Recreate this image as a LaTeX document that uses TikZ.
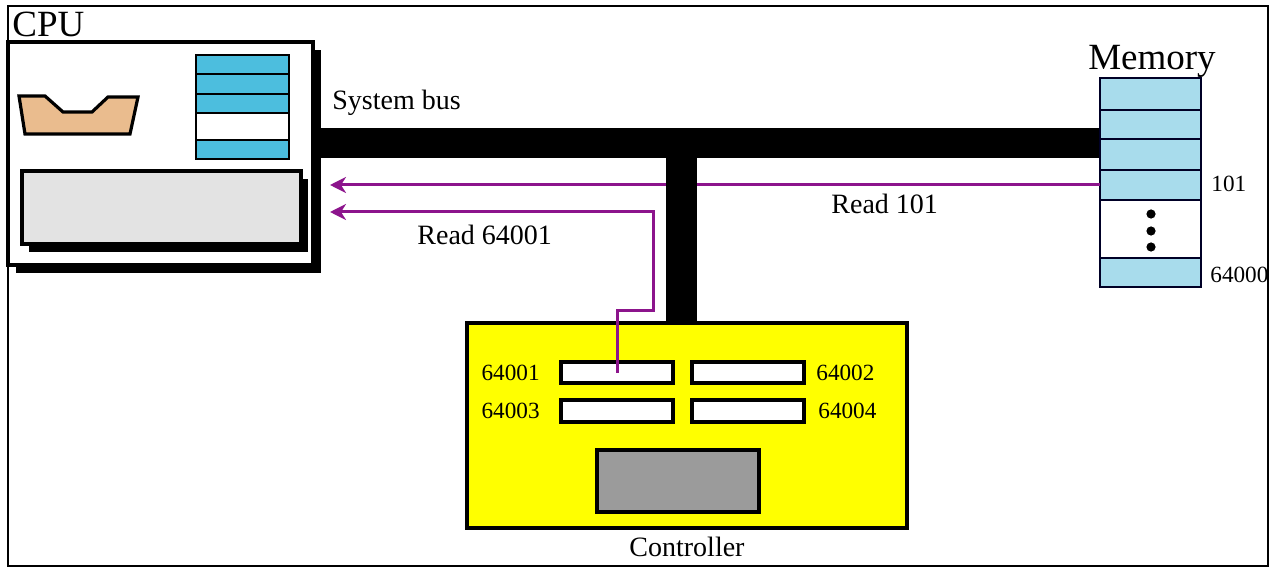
\documentclass[tikz,border=0pt]{standalone}
\usepackage{fontspec}
\setmainfont{Liberation Serif}
\usetikzlibrary{positioning,shadows,arrows.meta}
\definecolor{regbleu}{RGB}{76,190,222}
\definecolor{membleu}{RGB}{168,220,236}
\definecolor{ocre}{RGB}{234,188,142}
\definecolor{gris}{RGB}{155,155,155}
\definecolor{grisclair}{RGB}{227,227,227}
\definecolor{violet}{RGB}{140,20,140}
\definecolor{jaune}{RGB}{255,255,0}
\begin{document}
\begin{tikzpicture}[x=0.5pt,y=-0.5pt]
	% Styles
	\tikzstyle{boite}=[draw,line width=1.6pt,inner sep=0pt,outer sep=0pt]
	\tikzstyle{ombre}=[drop shadow={shadow xshift=4pt,shadow yshift=-4pt,fill=black,opacity=1}]
	\tikzstyle{pile}=[boite,line width=1.2pt,fill=regbleu,minimum width=93*\Unite]
	\tikzstyle{case}=[boite,line width=1.2pt,draw=black!85!blue,fill=membleu,minimum width=101*\Unite]
	\tikzstyle{registre}=[boite,fill=white,minimum width=112*\Unite]
	\tikzstyle{bus}=[fill=black,inner sep=0pt,outer sep=0pt]
	\tikzstyle{lien}=[->,>={Stealth[length=8pt,width=8pt,inset=2.5pt]},line width=1.5pt,draw=violet]
	\tikzstyle{petit}=[font=\fontsize{11.6}{13}\selectfont,inner sep=0pt]
	\tikzstyle{moyen}=[font=\fontsize{14}{16}\selectfont,inner sep=0pt]
	\tikzstyle{grand}=[font=\fontsize{18.5}{21}\selectfont,inner sep=0pt]
	% Dimensions
	\def\Unite{0.5pt}
	\useasboundingbox (0,0) rectangle (1274,572);
	% Cadre
	\node[draw,line width=1.1pt,minimum width=1260*\Unite,minimum height=560*\Unite] (cadre) at (638,286) {};
	\node[grand,anchor=base west] (tcpu) at (12,37) {CPU};
	% CPU
	\node[boite,ombre,fill=white,minimum width=305*\Unite,minimum height=223*\Unite] (cpu) at (160.5,153.5) {};
	\draw[line width=1.6pt,fill=ocre] (19,96) -- (45,96) -- (63,112) -- (92,112) -- (108,97) -- (138,97) -- (130,134) -- (25,134) -- cycle;
	\node[pile,minimum height=19*\Unite] (s1) at (242.5,64.5) {};
	\node[pile,minimum height=20*\Unite] (s2) at (242.5,84) {};
	\node[pile,minimum height=19*\Unite] (s3) at (242.5,103.5) {};
	\node[pile,fill=white,minimum height=27*\Unite] (s4) at (242.5,126.5) {};
	\node[pile,minimum height=19*\Unite] (s5) at (242.5,149.5) {};
	\node[boite,drop shadow={shadow xshift=3.5pt,shadow yshift=-4pt,fill=black,opacity=1},fill=grisclair,minimum width=279*\Unite,minimum height=73*\Unite] (alu) at (161.5,207.5) {};
	% Bus
	\node[bus,minimum width=787*\Unite,minimum height=30*\Unite] (bus) at (706.5,143) {};
	\node[moyen,anchor=base west] (tbus) at (332,110) {System bus};
	% Memoire
	\node[case,minimum height=32*\Unite] (m1) at (1150.5,94) {};
	\node[case,minimum height=29*\Unite] (m2) at (1150.5,124.5) {};
	\node[case,minimum height=31*\Unite] (m3) at (1150.5,154.5) {};
	\node[case,minimum height=30*\Unite] (m4) at (1150.5,185) {};
	\node[case,fill=white,minimum height=58*\Unite] (m5) at (1150.5,229) {};
	\node[case,minimum height=29*\Unite] (m6) at (1150.5,272.5) {};
	\foreach \y in {214,231,247} \fill (1151,\y) circle (2.3pt);
	\node[grand,anchor=base] (tmem) at (1152,70) {Memory};
	\node[petit,anchor=base west] (a101) at (1211,192) {101};
	\node[petit,anchor=base west] (a64000) at (1210,283) {64000};
	% Controleur
	\node[boite,fill=jaune,minimum width=440*\Unite,minimum height=205*\Unite] (ctrl) at (687,425.5) {};
	\node[registre,minimum height=21*\Unite] (r1) at (617,372.5) {};
	\node[registre,minimum height=21*\Unite] (r2) at (748,372.5) {};
	\node[registre,minimum height=22*\Unite] (r3) at (617,411) {};
	\node[registre,minimum height=22*\Unite] (r4) at (748,411) {};
	\node[boite,fill=gris,minimum width=162*\Unite,minimum height=62*\Unite] (unite) at (678,481) {};
	\node[petit,left=10.5pt of r1] (a64001) {64001};
	\node[petit,right=6pt of r2] (a64002) {64002};
	\node[petit,left=10.5pt of r3] (a64003) {64003};
	\node[petit,right=7pt of r4] (a64004) {64004};
	\node[moyen,anchor=base] (tctrl) at (687,556) {Controller};
	% Liens
	\coordinate (pointeA) at (330,185);
	\coordinate (pointeB) at (330,212);
	\coordinate (coude) at (653,310);
	\draw[lien] (m4.west) -- (pointeA);
	\draw[lien] (r1.center) |- (coude) |- (pointeB);
	\node[moyen,anchor=base west] (tlire1) at (831,214) {Read 101};
	\node[moyen,anchor=base west] (tlire2) at (417,245) {Read 64001};
	\node[bus,minimum width=31*\Unite,minimum height=164*\Unite] (stub) at (681.5,240) {};
\end{tikzpicture}
\end{document}
